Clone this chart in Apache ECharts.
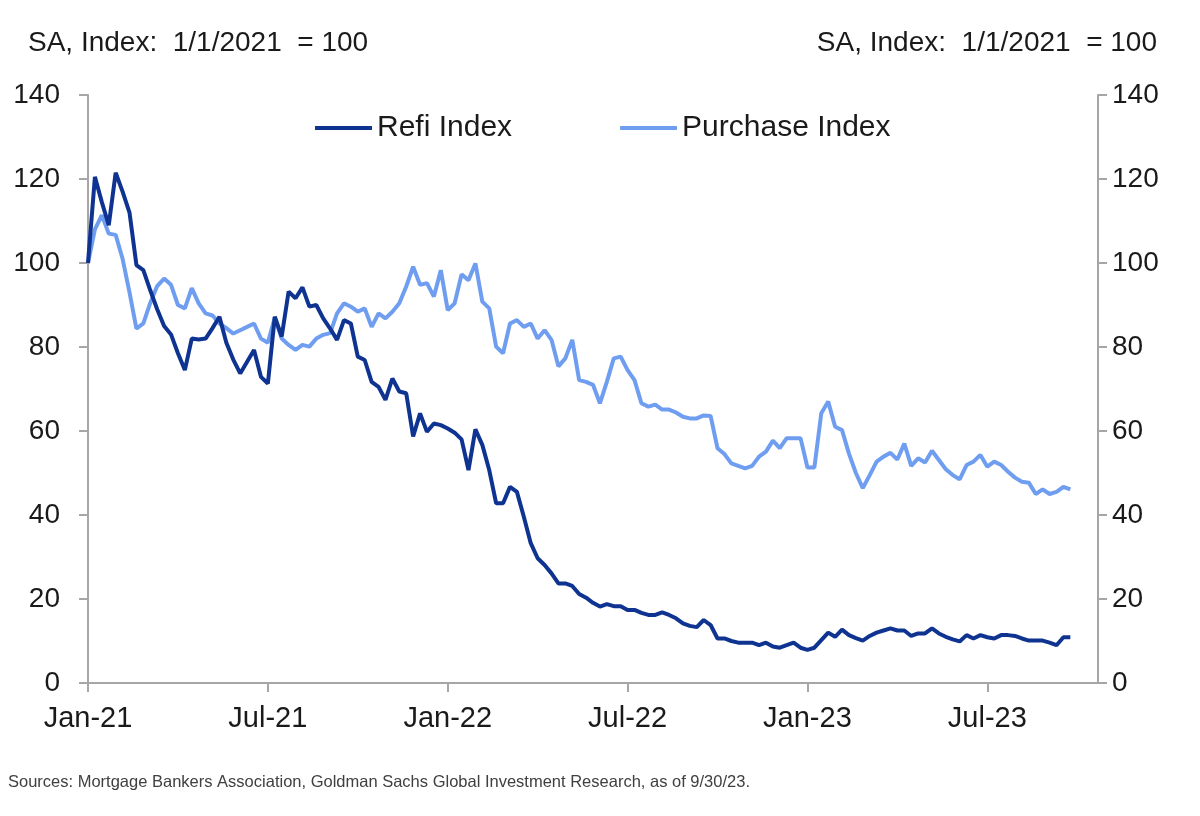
<!DOCTYPE html>
<html>
<head>
<meta charset="utf-8">
<script src="https://cdn.jsdelivr.net/npm/echarts@6/dist/echarts.min.js"></script>
<style>
  html, body { margin: 0; padding: 0; background: #ffffff; }
  #chart { width: 1200px; height: 816px; }
</style>
</head>
<body>
<div id="chart"></div>
<script>
// ---- Data (weekly, starting 1/1/2021) ----
const startDate = '2021-01-01';
const weekCount = 147; // category slots on the x axis
const refiIndex = [
  100, 120.5, 114.5, 109, 121.5, 117, 112, 99.5, 98.3, 93.5,
  89, 85, 83, 78.5, 74.5, 82, 81.8, 82, 84.5, 87.2,
  81, 77, 73.7, 76.5, 79.3, 72.9, 71.3, 87.2, 82.5, 93.2,
  91.6, 94.2, 89.6, 90, 86.8, 84.4, 81.7, 86.4, 85.6, 77.7,
  76.9, 71.7, 70.5, 67.4, 72.5, 69.4, 69, 58.7, 64.2, 59.8,
  61.8, 61.4, 60.6, 59.6, 58, 50.7, 60.4, 56.7, 50.7, 42.8,
  42.8, 46.7, 45.5, 39.6, 33.3, 29.7, 28.1, 26.1, 23.7, 23.7,
  23.1, 21.2, 20.3, 19.1, 18.2, 18.8, 18.3, 18.3, 17.4, 17.4,
  16.7, 16.2, 16.2, 16.8, 16.2, 15.4, 14.2, 13.6, 13.3, 15,
  13.8, 10.6, 10.6, 10, 9.6, 9.6, 9.6, 9, 9.6, 8.7,
  8.4, 9, 9.6, 8.4, 7.9, 8.4, 10.2, 12, 11, 12.7,
  11.4, 10.7, 10.1, 11.2, 12, 12.5, 13, 12.5, 12.5, 11.2,
  11.8, 11.8, 13, 11.8, 11, 10.4, 9.9, 11.4, 10.6, 11.4,
  10.9, 10.6, 11.4, 11.4, 11.2, 10.6, 10.1, 10.1, 10.1, 9.6,
  9, 10.9, 10.9
];
const purchaseIndex = [
  100, 108, 111.4, 107, 106.7, 101, 93, 84.4, 85.6, 90.5,
  94.5, 96.3, 94.8, 90, 89.2, 94, 90.4, 88, 87.5, 85.6,
  84.5, 83.2, 84, 84.8, 85.6, 82, 81, 87, 82, 80.5,
  79.3, 80.5, 80.1, 82, 82.9, 83.3, 88, 90.4, 89.6, 88.4,
  89.2, 84.8, 88, 86.8, 88.4, 90.4, 94.4, 99.1, 94.8, 95.2,
  92, 98.3, 88.8, 90.4, 97.3, 95.9, 99.9, 90.8, 89.2, 80.1,
  78.5, 85.6, 86.4, 84.8, 85.6, 82, 84, 81.7, 75.4, 77.3,
  81.7, 72.1, 71.7, 71, 66.6, 71.7, 77.3, 77.7, 74.5, 72.1,
  66.6, 65.8, 66.3, 65.1, 65.1, 64.4, 63.4, 63, 63, 63.7,
  63.6, 55.9, 54.5, 52.3, 51.7, 51.1, 51.7, 53.9, 55.1, 57.7,
  55.9, 58.3, 58.3, 58.3, 51.3, 51.3, 64.2, 67, 61, 60.2,
  54.6, 50, 46.4, 49.5, 52.7, 53.9, 54.8, 53.2, 57, 51.7,
  53.5, 52.5, 55.3, 53.1, 50.9, 49.5, 48.5, 51.9, 52.7, 54.3,
  51.5, 52.7, 51.9, 50.3, 48.9, 47.9, 47.7, 45, 46.1, 45,
  45.5, 46.7, 46.1
];
const xTickDates = ['2021-01-01', '2021-07-02', '2021-12-31', '2022-07-01', '2022-12-30', '2023-06-30'];
const xTickLabels = ['Jan-21', 'Jul-21', 'Jan-22', 'Jul-22', 'Jan-23', 'Jul-23'];
const yTicks = [0, 20, 40, 60, 80, 100, 120, 140];
const axisTitle = 'SA, Index:  1/1/2021  = 100';
const seriesNames = ['Refi Index', 'Purchase Index'];
const sourceText = 'Sources: Mortgage Bankers Association, Goldman Sachs Global Investment Research, as of 9/30/23.';

// weekly category dates
function fmt(d) {
  const m = String(d.getUTCMonth() + 1).padStart(2, '0');
  const day = String(d.getUTCDate()).padStart(2, '0');
  return d.getUTCFullYear() + '-' + m + '-' + day;
}
const categories = [];
{
  const d0 = new Date(startDate + 'T00:00:00Z');
  for (let i = 0; i < weekCount; i++) {
    categories.push(fmt(new Date(d0.getTime() + i * 7 * 86400000)));
  }
}

const FONT = '"Liberation Sans", Arial, sans-serif';
const AXIS_COLOR = '#a6a6a6';
const TEXT_COLOR = '#1a1a1a';
const isTick = (idx, val) => xTickDates.indexOf(val) >= 0;

const chart = echarts.init(document.getElementById('chart'), null, { renderer: 'canvas' });
chart.setOption({
  backgroundColor: '#ffffff',
  animation: false,
  textStyle: { fontFamily: FONT },
  graphic: [
    { type: 'text', left: 28, top: 29, style: { text: axisTitle, font: '28px ' + FONT, fill: TEXT_COLOR } },
    { type: 'text', right: 43, top: 29, style: { text: axisTitle, font: '28px ' + FONT, fill: TEXT_COLOR } },
    { type: 'text', left: 8, top: 774, style: { text: sourceText, font: '16.5px ' + FONT, fill: '#404040' } }
  ],
  legend: {
    left: 310,
    top: 108,
    itemWidth: 57,
    itemHeight: 4,
    itemGap: 108,
    icon: 'rect',
    textStyle: { fontSize: 30, color: TEXT_COLOR, fontFamily: FONT, padding: [0, 0, 0, 0] },
    data: seriesNames
  },
  grid: { left: 88, right: 102, top: 95, bottom: 133, containLabel: false },
  xAxis: {
    type: 'category',
    data: categories,
    boundaryGap: false,
    axisLine: { lineStyle: { color: AXIS_COLOR, width: 2 } },
    axisTick: { show: true, interval: isTick, length: 9, lineStyle: { color: AXIS_COLOR, width: 2 } },
    axisLabel: {
      interval: isTick,
      formatter: v => { const i = xTickDates.indexOf(v); return i >= 0 ? xTickLabels[i] : ''; },
      fontSize: 29, color: TEXT_COLOR, margin: 21, fontFamily: FONT
    },
    splitLine: { show: false }
  },
  yAxis: [
    {
      type: 'value', position: 'left', min: yTicks[0], max: yTicks[yTicks.length - 1], interval: 20,
      axisLine: { show: true, lineStyle: { color: AXIS_COLOR, width: 2 } },
      axisTick: { show: true, length: 9, lineStyle: { color: AXIS_COLOR, width: 2 } },
      axisLabel: { fontSize: 28, color: TEXT_COLOR, margin: 28, fontFamily: FONT },
      splitLine: { show: false }
    },
    {
      type: 'value', position: 'right', min: yTicks[0], max: yTicks[yTicks.length - 1], interval: 20,
      axisLine: { show: true, lineStyle: { color: AXIS_COLOR, width: 2 } },
      axisTick: { show: true, length: 9, lineStyle: { color: AXIS_COLOR, width: 2 } },
      axisLabel: { fontSize: 28, color: TEXT_COLOR, margin: 14, fontFamily: FONT },
      splitLine: { show: false }
    }
  ],
  series: [
    {
      name: seriesNames[0], type: 'line', yAxisIndex: 0, data: refiIndex,
      showSymbol: false, symbol: 'none',
      lineStyle: { color: '#0f3390', width: 4 }, itemStyle: { color: '#0f3390' }, z: 3
    },
    {
      name: seriesNames[1], type: 'line', yAxisIndex: 0, data: purchaseIndex,
      showSymbol: false, symbol: 'none',
      lineStyle: { color: '#6f9ef0', width: 4 }, itemStyle: { color: '#6f9ef0' }, z: 2
    }
  ]
});
</script>
</body>
</html>
